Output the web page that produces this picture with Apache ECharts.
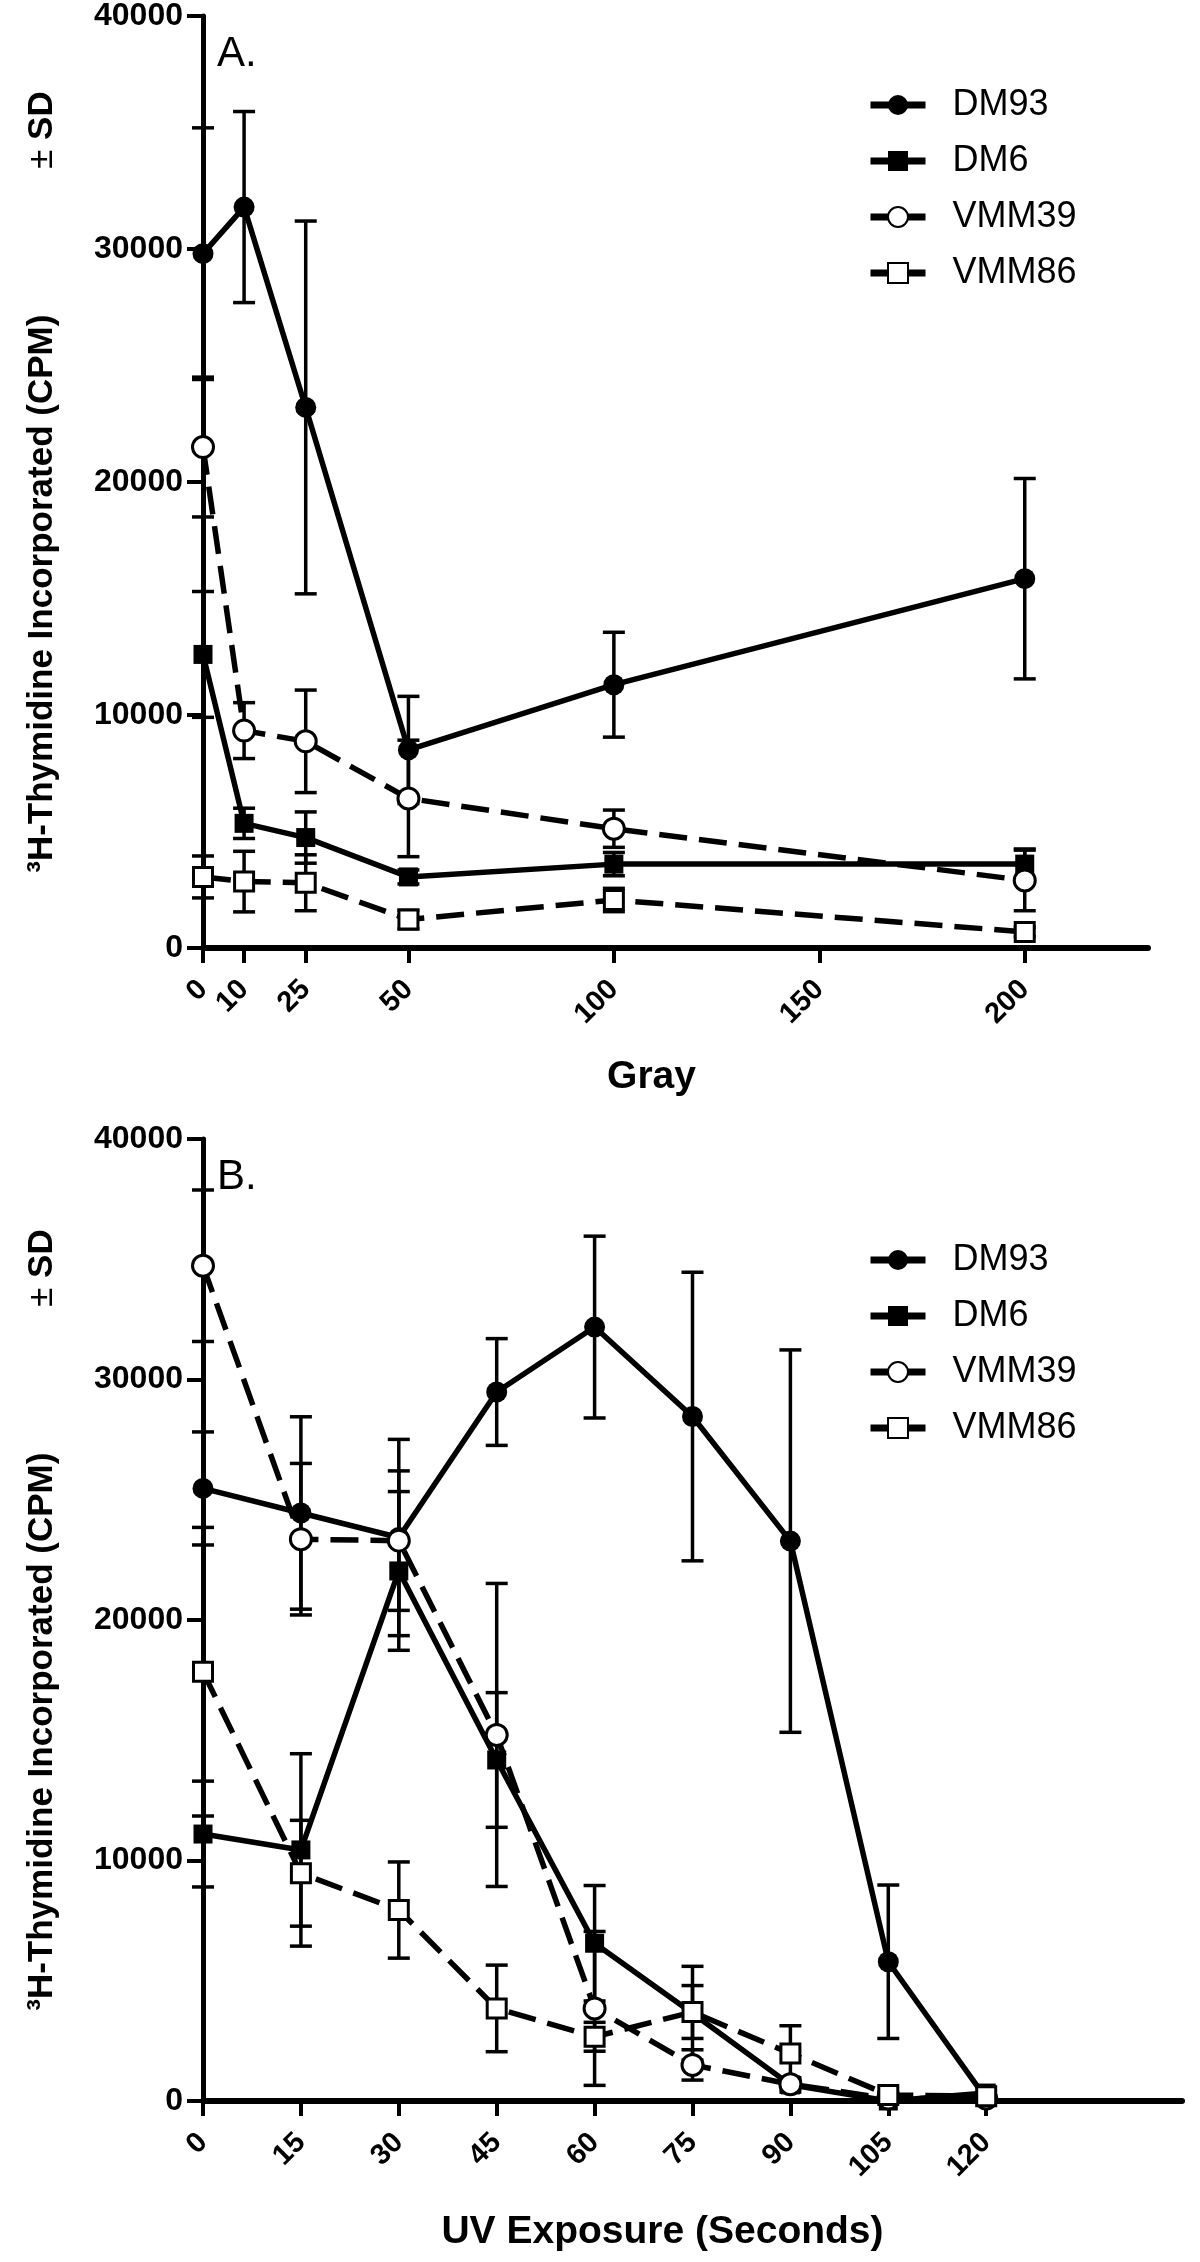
<!DOCTYPE html>
<html>
<head>
<meta charset="utf-8">
<script src="https://cdn.jsdelivr.net/npm/echarts@6/dist/echarts.min.js"></script>
<style>
  html, body { margin: 0; padding: 0; background: #fff; }
  #chart { width: 1200px; height: 2262px; }
</style>
</head>
<body>
<div id="chart"></div>
<script>
// ---------- Panel A: gamma irradiation (Gray) ----------
const grayDose  = [0, 10, 25, 50, 100, 200];
const grayTicks = [0, 10, 25, 50, 100, 150, 200];
const grayDM93    = [29800, 31800, 23200, 8500, 11300, 15850];
const grayDM93SD  = [5400, 4100, 8000, 2300, 2250, 4300];
const grayDM6     = [12600, 5350, 4740, 3050, 3600, 3600];
const grayDM6SD   = [2700, 650, 1100, 300, 500, 650];
const grayVMM39   = [21500, 9330, 8870, 6420, 5120, 2900];
const grayVMM39SD = [3000, 1200, 2200, 2500, 800, 1300];
const grayVMM86   = [3050, 2850, 2800, 1220, 2060, 690];
const grayVMM86SD = [900, 1300, 1200, 400, 500, 200];

// ---------- Panel B: UV exposure (seconds) ----------
const uvTime  = [0, 15, 30, 45, 60, 75, 90, 105, 120];
const uvTicks = [0, 15, 30, 45, 60, 75, 90, 105, 120];
const uvDM93    = [25470, 24450, 23430, 29480, 32180, 28460, 23280, 5790, 100];
const uvDM93SD  = [2350, 4000, 4080, 2220, 3780, 6000, 7950, 3190, 0];
const uvDM6     = [11100, 10440, 22040, 14180, 6560, 3650, 670, 0, 330];
const uvDM6SD   = [2200, 4000, 3300, 2800, 2400, 1950, 300, 0, 0];
const uvVMM39   = [34730, 23360, 23300, 15220, 3850, 1500, 700, 100, 100];
const uvVMM39SD = [3150, 3150, 2900, 6300, 3200, 630, 200, 0, 0];
const uvVMM86   = [17850, 9470, 7940, 3850, 2670, 3700, 1980, 250, 200];
const uvVMM86SD = [6000, 2200, 2000, 1800, 600, 1100, 1150, 100, 0];

const seriesNames = ['DM93', 'DM6', 'VMM39', 'VMM86'];
const yTitle = '{b|³H-Thymidine Incorporated (CPM)}{n|               ± }{b|SD}';

const FONT = '"Liberation Sans", Arial, Helvetica, sans-serif';

const styles = {
  DM93:  { symbol: 'circle', size: 21, fill: '#000', dashed: false },
  DM6:   { symbol: 'rect',   size: 19, fill: '#000', dashed: false },
  VMM39: { symbol: 'circle', size: 21, fill: '#fff', dashed: true },
  VMM86: { symbol: 'rect',   size: 19, fill: '#fff', dashed: true }
};

function lineSeries(name, xs, ys, axisIdx) {
  const s = styles[name];
  return {
    type: 'line', name: name,
    xAxisIndex: axisIdx, yAxisIndex: axisIdx,
    data: xs.map((x, i) => [x, ys[i]]),
    symbol: s.symbol, symbolSize: s.size,
    itemStyle: { color: s.fill, borderColor: '#000', borderWidth: s.fill === '#fff' ? 3 : 0 },
    lineStyle: { color: '#000', width: 5.5, type: s.dashed ? [28, 12] : 'solid' },
    z: 3, animation: false
  };
}

function errorBarRender(params, api) {
  const x = api.value(0), y = api.value(1), sd = api.value(2);
  if (!sd) return null;
  const hi = api.coord([x, y + sd]);
  const lo = api.coord([x, Math.max(0, y - sd)]);
  const half = 11;
  const st = { stroke: '#000', lineWidth: 3.5, fill: null };
  return {
    type: 'group',
    children: [
      { type: 'line', shape: { x1: hi[0], y1: hi[1], x2: lo[0], y2: lo[1] }, style: st },
      { type: 'line', shape: { x1: hi[0] - half, y1: hi[1], x2: hi[0] + half, y2: hi[1] }, style: st },
      { type: 'line', shape: { x1: lo[0] - half, y1: lo[1], x2: lo[0] + half, y2: lo[1] }, style: st }
    ]
  };
}

function errSeries(name, xs, ys, sds, axisIdx) {
  return {
    type: 'custom', name: name,
    xAxisIndex: axisIdx, yAxisIndex: axisIdx,
    data: xs.map((x, i) => [x, ys[i], sds[i]]),
    encode: { x: 0, y: 1 },
    renderItem: errorBarRender,
    z: 2, animation: false
  };
}

function xAxisCfg(gridIdx, max, ticks, name, namePadRight, nameGap) {
  return {
    type: 'value', gridIndex: gridIdx, min: 0, max: max,
    name: name, nameLocation: 'middle', nameGap: nameGap,
    nameTextStyle: { fontFamily: FONT, fontSize: 39, fontWeight: 'bold', color: '#000', padding: [0, namePadRight, 0, 0] },
    axisLine: { onZero: false, lineStyle: { color: '#000', width: 6 } },
    axisTick: { show: true, inside: false, length: 15, lineStyle: { color: '#000', width: 4 }, customValues: ticks },
    axisLabel: { customValues: ticks, rotate: 45, margin: 37, fontFamily: FONT, fontSize: 29, fontWeight: 'bold', color: '#000' },
    splitLine: { show: false }
  };
}

function yAxisCfg(gridIdx) {
  return {
    type: 'value', gridIndex: gridIdx, min: 0, max: 40000, interval: 10000,
    name: yTitle, nameLocation: 'middle', nameRotate: 90, nameGap: 143,
    nameTextStyle: {
      fontFamily: FONT, fontSize: 35, fontWeight: 'bold', color: '#000',
      rich: {
        b: { fontFamily: FONT, fontSize: 35, fontWeight: 'bold', color: '#000' },
        n: { fontFamily: FONT, fontSize: 35, fontWeight: 'normal', color: '#000' }
      }
    },
    axisLine: { show: true, lineStyle: { color: '#000', width: 5 } },
    axisTick: { show: true, inside: false, length: 16, lineStyle: { color: '#000', width: 4 } },
    axisLabel: { margin: 20, fontFamily: FONT, fontSize: 32, fontWeight: 'bold', color: '#000',
                 formatter: v => String(v) },
    splitLine: { show: false }
  };
}

function legendCfg(top) {
  return {
    orient: 'vertical', left: 862, top: top,
    data: seriesNames,
    itemWidth: 55, itemHeight: 25, itemGap: 20,
    lineStyle: { type: 'solid', width: 7, color: '#000' },
    textStyle: { fontFamily: FONT, fontSize: 36, color: '#000', padding: [0, 0, 0, 22] },
    selectedMode: false
  };
}

const series = [];
const gA = { DM93: [grayDM93, grayDM93SD], DM6: [grayDM6, grayDM6SD], VMM39: [grayVMM39, grayVMM39SD], VMM86: [grayVMM86, grayVMM86SD] };
const gB = { DM93: [uvDM93, uvDM93SD], DM6: [uvDM6, uvDM6SD], VMM39: [uvVMM39, uvVMM39SD], VMM86: [uvVMM86, uvVMM86SD] };
seriesNames.forEach(n => series.push(lineSeries(n, grayDose, gA[n][0], 0)));
seriesNames.forEach(n => series.push(lineSeries(n, uvTime, gB[n][0], 1)));
seriesNames.forEach(n => series.push(errSeries(n, grayDose, gA[n][0], gA[n][1], 0)));
seriesNames.forEach(n => series.push(errSeries(n, uvTime, gB[n][0], gB[n][1], 1)));

const option = {
  backgroundColor: '#fff',
  animation: false,
  title: [
    { text: 'A.', left: 217, top: 33, padding: 0, textStyle: { fontFamily: FONT, fontSize: 42, fontWeight: 'normal', color: '#000' } },
    { text: 'B.', left: 217, top: 1156, padding: 0, textStyle: { fontFamily: FONT, fontSize: 42, fontWeight: 'normal', color: '#000' } }
  ],
  legend: [legendCfg(82), legendCfg(1237)],
  grid: [
    { left: 203, top: 16, width: 945, height: 932, containLabel: false },
    { left: 203, top: 1139, width: 979, height: 962, containLabel: false }
  ],
  xAxis: [
    xAxisCfg(0, 230, grayTicks, 'Gray', 48, 110),
    xAxisCfg(1, 150, uvTicks, 'UV Exposure (Seconds)', 60, 112)
  ],
  yAxis: [yAxisCfg(0), yAxisCfg(1)],
  series: series
};

const chart = echarts.init(document.getElementById('chart'), null, { renderer: 'canvas' });
chart.setOption(option);
</script>
</body>
</html>
